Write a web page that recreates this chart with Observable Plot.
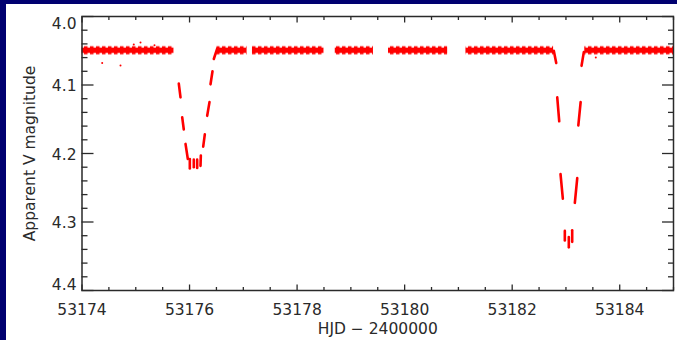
<!DOCTYPE html>
<html>
<head>
<meta charset="utf-8">
<script src="https://cdn.jsdelivr.net/npm/d3@7"></script>
<script src="https://cdn.jsdelivr.net/npm/@observablehq/plot@0.6"></script>
<style>
  html, body { margin: 0; padding: 0; background: #000070; width: 677px; height: 340px; overflow: hidden; }
  #panel { position: absolute; left: 6px; top: 4px; width: 671px; height: 336px; background: #fff; }
</style>
</head>
<body>
<div id="panel"></div>
<script>
// Out-of-eclipse observing runs (HJD - 2400000) and the magnitude band they cover
const segStart = [53174.00, 53176.51, 53177.17, 53178.71, 53179.70, 53181.14, 53183.35];
const segEnd   = [53175.71, 53177.07, 53178.50, 53179.42, 53180.80, 53182.77, 53185.00];
const segMagLo = [4.0435, 4.0435, 4.0435, 4.0435, 4.0435, 4.0435, 4.0435];
const segMagHi = [4.0565, 4.0565, 4.0565, 4.0565, 4.0565, 4.0565, 4.0565];

// Short in-eclipse runs: each run drifts from (t1, m1) to (t2, m2)
const runT1 = [53175.800, 53175.863, 53175.925, 53176.005, 53176.079, 53176.142, 53176.204,
               53176.254, 53176.328, 53176.390, 53176.451,
               53182.774, 53182.838, 53182.899, 53182.979, 53183.053, 53183.116,
               53183.165, 53183.230, 53183.290];
const runT2 = [53175.832, 53175.893, 53175.968, 53176.005, 53176.079, 53176.142, 53176.210,
               53176.284, 53176.371, 53176.427, 53176.514,
               53182.819, 53182.875, 53182.942, 53182.979, 53183.053, 53183.116,
               53183.210, 53183.273, 53183.332];
const runM1 = [4.098, 4.147, 4.186, 4.208, 4.209, 4.209, 4.218,
               4.190, 4.145, 4.099, 4.062,
               4.050, 4.118, 4.230, 4.313, 4.322, 4.312,
               4.272, 4.159, 4.072];
const runM2 = [4.118, 4.165, 4.208, 4.222, 4.220, 4.221, 4.203,
               4.172, 4.125, 4.080, 4.047,
               4.068, 4.153, 4.266, 4.327, 4.337, 4.329,
               4.236, 4.125, 4.052];

// Isolated deviant measurements
const outT = [53174.376, 53174.716, 53175.088, 53174.963, 53175.348, 53183.555];
const outM = [4.068, 4.0715, 4.038, 4.041, 4.042, 4.060];

// Axis ticks
const xMajor = [53174, 53176, 53178, 53180, 53182, 53184];
const yMajor = [4.0, 4.1, 4.2, 4.3, 4.4];
const xMinor = d3.range(53174, 53185.001, 0.5).filter(v => !xMajor.includes(v));
const yMinor = d3.range(4.0, 4.4001, 0.02).map(v => +v.toFixed(2)).filter(v => !yMajor.includes(v));

const segments = segStart.map((s, i) => ({s, e: segEnd[i], lo: segMagLo[i], hi: segMagHi[i]}));
const runs = runT1.map((t, i) => ({t1: t, t2: runT2[i], m1: runM1[i], m2: runM2[i]}));
const outliers = outT.map((t, i) => ({t, m: outM[i]}));

const ink = "#2a2a2a";
const red = "#ff0000";
const tickStyle = {fill: "none", label: null, strokeWidth: 1.3};

const chart = Plot.plot({
  width: 671,
  height: 336,
  marginLeft: 75.5,
  marginRight: 4,
  marginTop: 12,
  marginBottom: 50,
  style: {fontFamily: "DejaVu Sans", fontSize: "15.5px", color: ink, background: "#fff"},
  x: {domain: [53174, 53185]},
  y: {domain: [4.0, 4.4], reverse: true},
  marks: [
    // baseline runs are strings of short exposure bursts, drawn with a streak texture
    Plot.rect(segments, {x1: "s", x2: "e", y1: "lo", y2: "hi", fill: "url(#bursts)"}),
    Plot.link(runs, {x1: "t1", y1: "m1", x2: "t2", y2: "m2", stroke: red, strokeWidth: 2.6, strokeLinecap: "round"}),
    Plot.dot(outliers, {x: "t", y: "m", r: 1, fill: red, stroke: "none"}),
    Plot.frame({stroke: ink, strokeWidth: 1.5}),
    // inward tick marks on all four sides
    Plot.axisX(xMajor, {anchor: "bottom", tickSize: -5.5, ...tickStyle}),
    Plot.axisX(xMinor, {anchor: "bottom", tickSize: -3, ...tickStyle}),
    Plot.axisX(xMajor, {anchor: "top", tickSize: -5.5, ...tickStyle}),
    Plot.axisX(xMinor, {anchor: "top", tickSize: -3, ...tickStyle}),
    Plot.axisY(yMajor, {anchor: "left", tickSize: -12, ...tickStyle}),
    Plot.axisY(yMinor, {anchor: "left", tickSize: -6, ...tickStyle}),
    Plot.axisY(yMajor, {anchor: "right", tickSize: -12, ...tickStyle}),
    Plot.axisY(yMinor, {anchor: "right", tickSize: -6, ...tickStyle}),
    // tick labels; the end labels are nudged inside the axis range
    Plot.axisX(xMajor, {anchor: "bottom", tickSize: 0, tickPadding: 13, tickFormat: "d", label: null}),
    Plot.axisY(yMajor.slice(1, -1), {anchor: "left", tickSize: 0, tickPadding: 5.5, tickFormat: ".1f", label: null, dy: 1.5}),
    Plot.axisY(yMajor.slice(0, 1), {anchor: "left", tickSize: 0, tickPadding: 5.5, tickFormat: ".1f", label: null, dy: 8}),
    Plot.axisY(yMajor.slice(-1), {anchor: "left", tickSize: 0, tickPadding: 5.5, tickFormat: ".1f", label: null, dy: -5}),
    // axis titles
    Plot.text(["HJD \u2212 2400000"], {text: d => d, frameAnchor: "bottom", dy: 38.5, lineAnchor: "middle", fill: ink}),
    Plot.text(["Apparent V magnitude"], {text: d => d, frameAnchor: "left", textAnchor: "middle", rotate: -90, dx: -51.5, lineAnchor: "middle", fill: ink})
  ]
});

// Streak texture: a tall burst every 6 px over a thick continuous core
const yScale = chart.scale("y");
const bandTop = yScale.apply(segMagLo[0]), bandH = yScale.apply(segMagHi[0]) - bandTop;
const pat = d3.select(chart).insert("defs", ":first-child").append("pattern")
  .attr("id", "bursts").attr("patternUnits", "userSpaceOnUse")
  .attr("x", 0).attr("y", bandTop).attr("width", 6).attr("height", bandH);
pat.append("rect").attr("x", 0).attr("y", bandH * 0.05).attr("width", 3.5).attr("height", bandH * 0.9).attr("fill", red);
pat.append("rect").attr("x", 0).attr("y", bandH * 0.2).attr("width", 6).attr("height", bandH * 0.6).attr("fill", red);

document.getElementById("panel").appendChild(chart);
</script>
</body>
</html>
